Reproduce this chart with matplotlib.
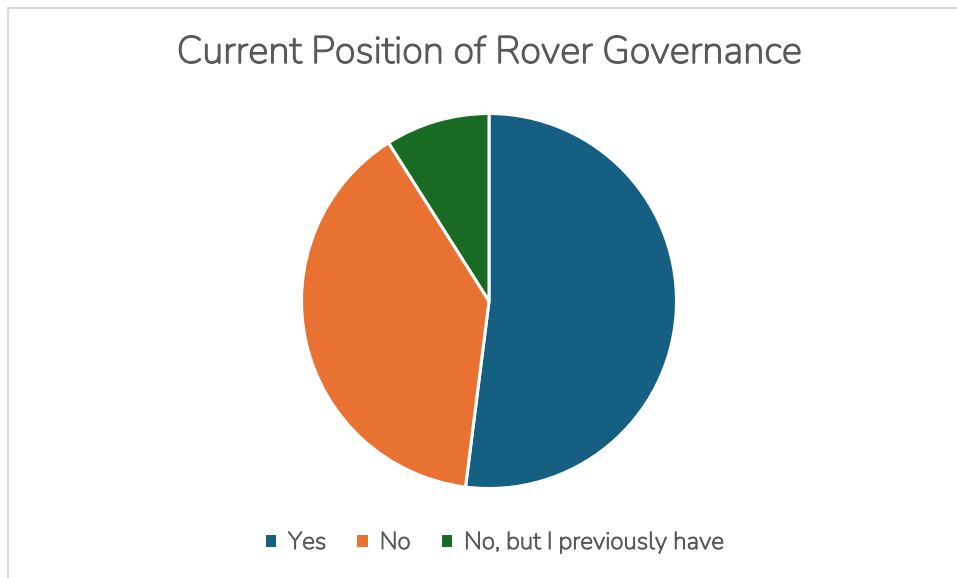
import matplotlib
matplotlib.use("Agg")
import matplotlib.pyplot as plt
from matplotlib.lines import Line2D
import matplotlib.patheffects as pe

labels = ["Yes", "No", "No, but I previously have"]
values = [52, 39, 9]
colors = ["#156082", "#E97132", "#196B24"]

plt.rcParams['font.family'] = ['Nunito', 'Lato', 'DejaVu Sans']
W, H = 957, 578
TXT = "#595959"
fig = plt.figure(figsize=(W/100, H/100), dpi=100)
fig.patch.set_facecolor("white")

# chart border (top and left visible)
fig.add_artist(Line2D([8/W, 1], [1 - 7.5/H, 1 - 7.5/H], transform=fig.transFigure,
                      color="#D9D9D9", linewidth=1.5))
fig.add_artist(Line2D([8/W, 8/W], [0, 1 - 7.5/H], transform=fig.transFigure,
                      color="#D9D9D9", linewidth=1.5))

cx, cy, r = 489, 301, 187.5
ax = fig.add_axes([(cx - r)/W, (H - cy - r)/H, 2*r/W, 2*r/H])
wedges, _ = ax.pie(values, colors=colors, startangle=90, counterclock=False,
                   radius=1, wedgeprops=dict(edgecolor="white", linewidth=2.2))
ax.set_xlim(-1, 1)
ax.set_ylim(-1, 1)
ax.set_aspect("equal")
ax.axis("off")

thick = [pe.withStroke(linewidth=0.9, foreground=TXT)]

fig.text(489/W, 1 - 53/H, "Current Position of Rover Governance", ha="center", va="center",
         fontsize=27.6, color=TXT, path_effects=thick)

leg = fig.legend(wedges, labels, loc="center", bbox_to_anchor=(494/W, 1 - 543/H),
                 ncol=3, frameon=False, prop=dict(size=17.5),
                 labelcolor=TXT,
                 handlelength=0.55, handleheight=0.55, handletextpad=0.45, columnspacing=1.2)
for t in leg.get_texts():
    t.set_path_effects([pe.withStroke(linewidth=0.7, foreground=TXT)])

fig.savefig("out.png", dpi=100)
